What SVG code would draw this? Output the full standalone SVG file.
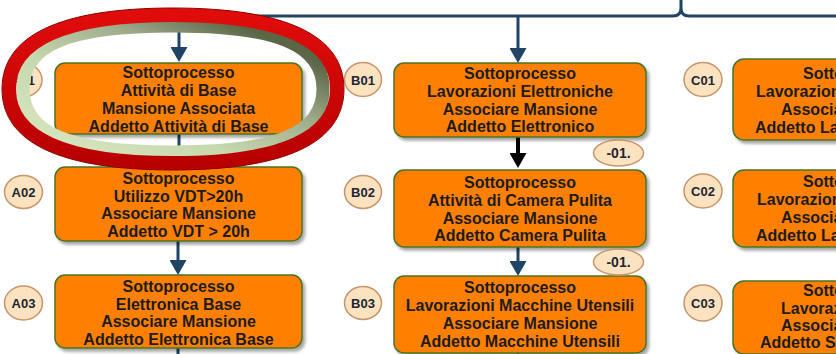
<svg xmlns="http://www.w3.org/2000/svg" width="836" height="354" viewBox="0 0 836 354">
<style>
.box{fill:#ff8000;stroke:#4a7324;stroke-width:1.5;filter:url(#sh)}
.t{font-family:"Liberation Sans",Arial,sans-serif;font-weight:bold;font-size:16px;fill:#1c1c1c;text-anchor:middle}
.ts{font-family:"Liberation Sans",Arial,sans-serif;font-weight:bold;font-size:16px;fill:#1c1c1c}
.lab{fill:#fde2bf;stroke:#c8956b;stroke-width:1.5}
.lt{font-family:"Liberation Sans",Arial,sans-serif;font-weight:bold;font-size:13px;fill:#1e2533;text-anchor:middle}
.con{fill:none;stroke:#1f4466;stroke-width:3}
.conk{fill:none;stroke:#000;stroke-width:4}
</style>
<defs>
<filter id="sh" x="-5%" y="-10%" width="115%" height="130%">
<feDropShadow dx="2.5" dy="3" stdDeviation="1.5" flood-color="#000" flood-opacity="0.35"/>
</filter>
<marker id="ab" markerUnits="userSpaceOnUse" markerWidth="16" markerHeight="17" viewBox="0 0 16 17" refX="1" refY="8.5" orient="auto">
<path d="M0,0 L15,8.5 L0,17 Z" fill="#1f4466"/>
</marker>
<marker id="ak" markerUnits="userSpaceOnUse" markerWidth="16" markerHeight="17" viewBox="0 0 16 17" refX="1" refY="8.5" orient="auto">
<path d="M0,0 L15,8.5 L0,17 Z" fill="#000"/>
</marker>
<linearGradient id="gr" x1="0" y1="0" x2="0" y2="1">
<stop offset="0" stop-color="#e00c0c"/>
<stop offset="1" stop-color="#b80000"/>
</linearGradient>
<linearGradient id="gg" x1="0.95" y1="0.25" x2="0.15" y2="0.95">
<stop offset="0" stop-color="#5a6646"/>
<stop offset="0.3" stop-color="#9eac8c"/>
<stop offset="0.65" stop-color="#c6d8ae"/>
<stop offset="1" stop-color="#d4e4be"/>
</linearGradient>
</defs>
<rect width="836" height="354" fill="#fff"/>

<g id="connectors">
<path class="con" d="M179,16 H673 Q681,16 681,8 V0 M681,8 Q681,16 689,16 H836"/>
<line class="con" x1="179" y1="16" x2="179" y2="48" marker-end="url(#ab)"/>
<line class="con" x1="518" y1="16" x2="518" y2="49" marker-end="url(#ab)"/>
<line class="con" x1="179" y1="133" x2="179" y2="153" marker-end="url(#ab)"/>
<line class="con" x1="178" y1="241" x2="178" y2="261" marker-end="url(#ab)"/>
<line class="con" x1="178" y1="348" x2="178" y2="354"/>
<line class="conk" x1="518" y1="137" x2="518" y2="154" marker-end="url(#ak)"/>
<line class="con" x1="518" y1="247" x2="518" y2="262" marker-end="url(#ab)"/>
<line class="con" x1="518" y1="353" x2="518" y2="354"/>
</g>

<g id="A01">
<ellipse class="lab" cx="23" cy="80" rx="19" ry="17"/>
<text class="lt" x="23" y="85">A01</text>
<rect class="box" x="55" y="63" width="247" height="71" rx="10"/>
<text class="t" x="178.5" y="78">Sottoprocesso</text>
<text class="t" x="178.5" y="96">Attività di Base</text>
<text class="t" x="178.5" y="114">Mansione Associata</text>
<text class="t" x="178.5" y="132">Addetto Attività di Base</text>
</g>
<g id="A02">
<ellipse class="lab" cx="23.5" cy="192" rx="19" ry="16.5"/>
<text class="lt" x="23.5" y="197">A02</text>
<rect class="box" x="55" y="167" width="247" height="74" rx="10"/>
<text class="t" x="178.5" y="184">Sottoprocesso</text>
<text class="t" x="178.5" y="202">Utilizzo VDT&gt;20h</text>
<text class="t" x="178.5" y="219">Associare Mansione</text>
<text class="t" x="178.5" y="237">Addetto VDT &gt; 20h</text>
</g>
<g id="A03">
<ellipse class="lab" cx="23.5" cy="303" rx="19" ry="17"/>
<text class="lt" x="23.5" y="308">A03</text>
<rect class="box" x="55" y="275" width="247" height="73" rx="10"/>
<text class="t" x="178.5" y="292">Sottoprocesso</text>
<text class="t" x="178.5" y="310">Elettronica Base</text>
<text class="t" x="178.5" y="327">Associare Mansione</text>
<text class="t" x="178.5" y="345">Addetto Elettronica Base</text>
</g>

<g id="B01">
<ellipse class="lab" cx="363" cy="79.5" rx="18.5" ry="17"/>
<text class="lt" x="363" y="84.5">B01</text>
<rect class="box" x="394" y="63" width="252" height="74" rx="10"/>
<text class="t" x="520" y="79">Sottoprocesso</text>
<text class="t" x="520" y="97">Lavorazioni Elettroniche</text>
<text class="t" x="520" y="115">Associare Mansione</text>
<text class="t" x="520" y="132">Addetto Elettronico</text>
</g>
<g id="B02">
<ellipse class="lab" cx="363" cy="192" rx="18.5" ry="16.5"/>
<text class="lt" x="363" y="197">B02</text>
<rect class="box" x="394" y="170" width="252" height="77" rx="10"/>
<text class="t" x="520" y="188">Sottoprocesso</text>
<text class="t" x="520" y="206">Attività di Camera Pulita</text>
<text class="t" x="520" y="224">Associare Mansione</text>
<text class="t" x="520" y="241">Addetto Camera Pulita</text>
</g>
<g id="B03">
<ellipse class="lab" cx="363" cy="303" rx="18.5" ry="16.5"/>
<text class="lt" x="363" y="308">B03</text>
<rect class="box" x="394" y="276" width="252" height="77" rx="10"/>
<text class="t" x="520" y="293">Sottoprocesso</text>
<text class="t" x="520" y="311">Lavorazioni Macchine Utensili</text>
<text class="t" x="520" y="329">Associare Mansione</text>
<text class="t" x="520" y="347">Addetto Macchine Utensili</text>
</g>

<g id="C01">
<ellipse class="lab" cx="703" cy="79.5" rx="19" ry="17"/>
<text class="lt" x="703" y="84.5">C01</text>
<rect class="box" x="733" y="59" width="252" height="81" rx="11"/>
<text class="ts" x="803" y="79">Sottoprocesso</text>
<text class="ts" x="756" y="97">Lavorazioni</text>
<text class="ts" x="781" y="115">Associare Mansione</text>
<text class="ts" x="755" y="133">Addetto La</text>
</g>
<g id="C02">
<ellipse class="lab" cx="703" cy="191" rx="19" ry="17"/>
<text class="lt" x="703" y="196">C02</text>
<rect class="box" x="733" y="170" width="252" height="77" rx="11"/>
<text class="ts" x="803" y="187">Sottoprocesso</text>
<text class="ts" x="757" y="205">Lavorazioni</text>
<text class="ts" x="781" y="223">Associare Mansione</text>
<text class="ts" x="756" y="241">Addetto La</text>
</g>
<g id="C03">
<ellipse class="lab" cx="703" cy="303" rx="19" ry="18"/>
<text class="lt" x="703" y="308">C03</text>
<rect class="box" x="733" y="281" width="252" height="73" rx="11"/>
<text class="ts" x="803" y="296">Sottoprocesso</text>
<text class="ts" x="781" y="314">Lavorazioni</text>
<text class="ts" x="781" y="331">Associare Mansione</text>
<text class="ts" x="760" y="348">Addetto S</text>
</g>

<g id="tag1">
<ellipse class="lab" cx="618.5" cy="153" rx="25" ry="13"/>
<text class="lt" x="618.5" y="158" style="font-size:14px">-01.</text>
</g>
<g id="tag2">
<ellipse class="lab" cx="618.5" cy="262" rx="25" ry="13"/>
<text class="lt" x="618.5" y="267" style="font-size:14px">-01.</text>
</g>

<g id="highlight" fill="none">
<path stroke="url(#gg)" stroke-width="13" d="M323,89 C323,133.1 278,152 173,152 C68,152 23,133.1 23,89 C23,44.9 68,26 173,26 C278,26 323,44.9 323,89 Z"/>
<path stroke="url(#gr)" stroke-width="14" d="M337,89 C337,137.8 281.2,163 173,163 C64.8,163 9,137.8 9,89 C9,40.2 64.8,15 173,15 C281.2,15 337,40.2 337,89 Z"/>
<path stroke="#8e0000" stroke-width="1" d="M344,89 C344,142.5 285.9,170 173,170 C60.1,170 2,142.5 2,89 C2,35.5 60.1,8 173,8 C285.9,8 344,35.5 344,89 Z"/>
</g>
</svg>
